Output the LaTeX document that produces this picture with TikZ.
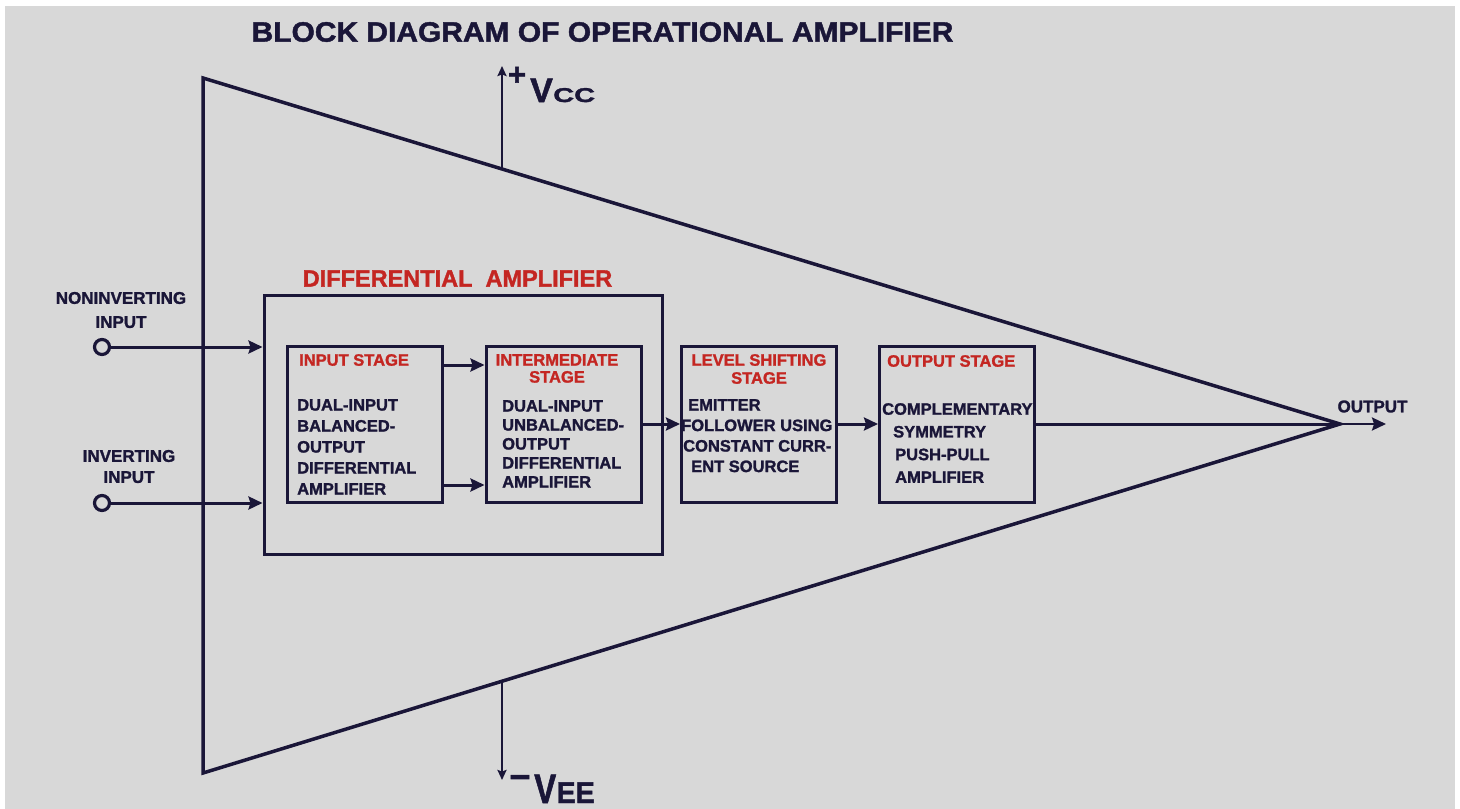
\documentclass[tikz,border=0pt]{standalone}
\usepackage{fontspec}
\setmainfont{Liberation Sans}[BoldFeatures={FakeBold=1.5}]
\usetikzlibrary{arrows.meta}
\definecolor{bg}{RGB}{216,216,216}
\definecolor{ink}{RGB}{26,22,56}
\definecolor{redt}{RGB}{196,38,34}
\begin{document}
\begin{tikzpicture}[x=1pt,y=-1pt,
  wire/.style={draw=ink, line width=3.5pt},
  arr/.style={draw=ink, line width=3pt, -{Stealth[length=14pt,width=13pt,inset=2pt]}},
  supply/.style={draw=ink, line width=2.2pt, -{Stealth[length=10pt,width=9pt,inset=1.5pt]}},
  stagebox/.style={draw=ink, line width=3pt, minimum width=155pt, minimum height=156pt, inner sep=0pt},
  body/.style={text=ink, font=\bfseries\fontsize{16.5}{#1}\selectfont, inner sep=0pt, align=left, anchor=north west},
  ttl/.style={text=redt, font=\bfseries\fontsize{16.5}{#1}\selectfont, inner sep=0pt, align=center},
  inlbl/.style={text=ink, font=\bfseries\fontsize{17}{#1}\selectfont, inner sep=0pt, align=center},
  port/.style={circle, draw=ink, line width=3.2pt, fill=bg, minimum size=15pt, inner sep=0pt},
]
% background
\fill[white] (0,0) rectangle (1460,809);
\fill[bg] (5,6) rectangle (1455,809);
\useasboundingbox (0,0) rectangle (1460,809);

% title
\node[text=ink, font=\bfseries\fontsize{28}{30}\selectfont, inner sep=0pt] (title) at (602.5,32)
  {\scalebox{1.07}[1]{BLOCK DIAGRAM OF OPERATIONAL AMPLIFIER}};

% triangle
\coordinate (tl) at (203,78);
\coordinate (apex) at (1340,424);
\coordinate (bl) at (203,773);
\draw[wire, line join=miter] (tl) -- (apex) -- (bl) -- cycle;

% supplies
\coordinate (vccbase) at (502,169);
\coordinate (vcctip) at (502,66);
\coordinate (veebase) at (502,682);
\coordinate (veetip) at (502,780);
\draw[supply] (vccbase) -- (vcctip);
\draw[supply] (veebase) -- (veetip);
\node[text=ink, font=\bfseries\fontsize{31}{31}\selectfont, inner sep=0pt] (vccplus) at (517,76) {+};
\node[text=ink, font=\bfseries\fontsize{34}{34}\selectfont, inner sep=0pt, anchor=base west] (vccv) at (530,102) {V};
\node[text=ink, font=\bfseries\fontsize{20}{20}\selectfont, inner sep=0pt, anchor=base west] (vccsub) at (vccv.base east) {\scalebox{1.45}[1]{CC}};
\node[text=ink, font=\bfseries\fontsize{36}{36}\selectfont, inner sep=0pt] (veeminus) at (520,782) {−};
\node[text=ink, font=\bfseries\fontsize{33}{33}\selectfont, inner sep=0pt, anchor=base west] (veev) at (534,803) {\scalebox{1}[1.25]{V}};
\node[text=ink, font=\bfseries\fontsize{26}{26}\selectfont, inner sep=0pt, anchor=base west] (veesub) at (veev.base east) {\scalebox{1.1}[1.15]{EE}};

% differential amplifier box
\node[draw=ink, line width=3pt, minimum width=398pt, minimum height=259pt, inner sep=0pt] (diff) at (463,424.5) {};
\node[text=redt, font=\bfseries\fontsize{23.5}{24}\selectfont, inner sep=0pt] (difflbl) at (457.5,278.5) {DIFFERENTIAL\ \ AMPLIFIER};

% stages
\node[stagebox] (instage) at (364.5,424) {};
\node[stagebox] (intstage) at (563.5,424) {};
\node[stagebox] (lvlstage) at (759,424) {};
\node[stagebox] (outstage) at (957,424) {};

% stage titles
\node[ttl=18, anchor=west] (intitle) at (299,360) {INPUT STAGE};
\node[ttl=17] (inttitle) at (557,368.5) {INTERMEDIATE\\STAGE};
\node[ttl=18] (lvltitle) at (759,369) {LEVEL SHIFTING\\STAGE};
\node[ttl=18, anchor=west] (outtitle) at (887,361) {OUTPUT STAGE};

% stage bodies
\node[body=21] (inbody) at (297,399) {DUAL-INPUT\\BALANCED-\\OUTPUT\\DIFFERENTIAL\\AMPLIFIER};
\node[body=19] (intbody) at (502,400) {DUAL-INPUT\\UNBALANCED-\\OUTPUT\\DIFFERENTIAL\\AMPLIFIER};
\node[body=20.5] (lvlbody) at (681,399) {\hspace*{7pt}EMITTER\\FOLLOWER USING\\\hspace*{2pt}CONSTANT CURR-\\\hspace*{10pt}ENT SOURCE};
\node[body=22.7] (outbody) at (882,403) {COMPLEMENTARY\\\hspace*{11pt}SYMMETRY\\\hspace*{13pt}PUSH-PULL\\\hspace*{13pt}AMPLIFIER};

% inputs
\node[port] (noninv) at (102,347) {};
\node[port] (inv) at (102,503) {};
\node[inlbl=24] (noninvlbl) at (121,310) {NONINVERTING\\INPUT};
\node[inlbl=21] (invlbl) at (129,466.5) {INVERTING\\INPUT};
\draw[arr] (noninv.east) -- (diff.west |- noninv);
\draw[arr] (inv.east) -- (diff.west |- inv);

% stage connections
\coordinate (rowa) at (0,365);
\coordinate (rowb) at (0,485);
\coordinate (rowc) at (0,424);
\draw[arr] (instage.east |- rowa) -- (intstage.west |- rowa);
\draw[arr] (instage.east |- rowb) -- (intstage.west |- rowb);
\draw[arr] (intstage.east |- rowc) -- (lvlstage.west |- rowc);
\draw[arr] (lvlstage.east |- rowc) -- (outstage.west |- rowc);
\draw[wire, line width=3pt] (outstage.east |- rowc) -- (apex);

% output
\coordinate (outtip) at (1386,424);
\draw[arr, line width=2.5pt] (apex) -- (outtip);
\node[inlbl=20] (outlbl) at (1372.5,406.5) {OUTPUT};
\end{tikzpicture}
\end{document}
